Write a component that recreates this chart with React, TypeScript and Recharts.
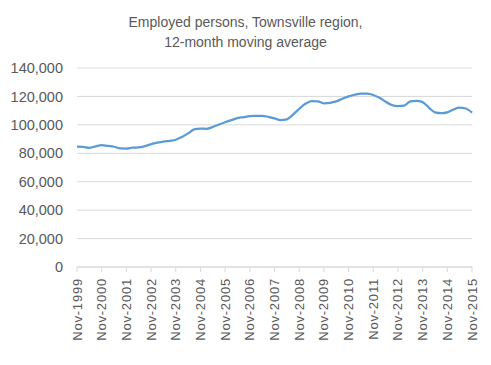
import { LineChart, Line, XAxis, YAxis, CartesianGrid } from 'recharts'

// quarterly readings of the 12-month moving average, Nov-1999 .. Nov-2015
const employed = [
  84.6, 84.5, 83.8, 84.8, 85.8, 85.2, 84.6, 83.4,
  83.3, 84.0, 84.1, 85.0, 86.5, 87.5, 88.2, 88.8,
  89.5, 91.5, 94.0, 96.8, 97.4, 97.2, 98.5, 100.2,
  101.8, 103.3, 104.7, 105.4, 106.1, 106.4, 106.4, 105.6,
  104.5, 103.4, 103.9, 107.2, 111.3, 114.8, 116.7, 116.5,
  115.2, 115.5, 116.5, 118.4, 120.0, 121.2, 122.0, 121.9,
  121.0, 119.0, 116.3, 114.0, 113.2, 113.5, 116.5, 116.8,
  116.0, 112.2, 108.8, 108.2, 108.8, 110.8, 112.1, 111.5,
  108.6,
]
const quarterMonths = ['Nov', 'Feb', 'May', 'Aug']
const yTicks = [0, 20000, 40000, 60000, 80000, 100000, 120000, 140000]
const titleLines = ['Employed persons, Townsville region,', '12-month moving average']

const data = employed.map((v, i) => ({
  month: `${quarterMonths[i % 4]}-${1999 + Math.floor((i + 3) / 4)}`,
  value: v * 1000,
}))

const FONT = '"Liberation Sans", Arial, sans-serif'
const TEXT = '#595959'
const GRID = '#d9d9d9'

function MonthTick({ x, y, payload }: any) {
  return (
    <text
      x={x}
      y={y}
      dy="0.35em"
      textAnchor="end"
      transform={`rotate(-90, ${x}, ${y})`}
      fill={TEXT}
      fontSize={13}
      fontFamily={FONT}
      letterSpacing={0.8}
    >
      {payload.value}
    </text>
  )
}

export default function App() {
  return (
    <div style={{ position: 'absolute', left: 0, top: 0, width: 491, height: 365, background: '#fff' }}>
      <div
        style={{
          position: 'absolute',
          top: 12,
          left: 0,
          width: 491,
          textAlign: 'center',
          fontFamily: FONT,
          fontSize: 14,
          lineHeight: '20px',
          color: TEXT,
        }}
      >
        {titleLines.map((t) => (
          <div key={t}>{t}</div>
        ))}
      </div>
      <LineChart
        width={491}
        height={365}
        data={data}
        margin={{ top: 68, right: 19, left: 0, bottom: 0 }}
      >
        <CartesianGrid vertical={false} stroke={GRID} />
        <XAxis
          dataKey="month"
          interval={3}
          height={98}
          tick={<MonthTick />}
          tickSize={5}
          tickMargin={6}
          stroke={GRID}
          tickLine={{ stroke: GRID }}
        />
        <YAxis
          domain={[0, 140000]}
          ticks={yTicks}
          width={77}
          axisLine={false}
          tickLine={false}
          tickSize={0}
          tickMargin={14}
          tick={{ fill: TEXT, fontSize: 14.5, fontFamily: FONT }}
          tickFormatter={(v) => v.toLocaleString('en-US')}
        />
        <Line
          type="monotone"
          dataKey="value"
          stroke="#5b9bd5"
          strokeWidth={2.25}
          dot={false}
          isAnimationActive={false}
        />
      </LineChart>
    </div>
  )
}
